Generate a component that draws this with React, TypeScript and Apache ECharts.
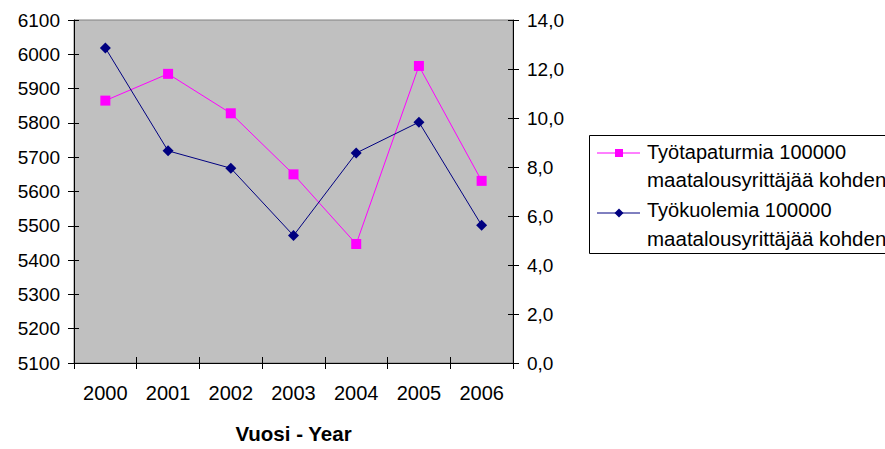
import React, { useEffect, useRef } from "react";
import * as echarts from "echarts";

const years = ["2000", "2001", "2002", "2003", "2004", "2005", "2006"];
const accidents = [5865, 5943, 5828, 5650, 5447, 5966, 5631];
const deaths = [12.86, 8.66, 7.95, 5.2, 8.57, 9.83, 5.62];
const accidentsName = "Työtapaturmia 100000 maatalousyrittäjää kohden";
const deathsName = "Työkuolemia 100000 maatalousyrittäjää kohden";
const xAxisTitle = "Vuosi - Year";

const FONT = "'Liberation Sans', Arial, sans-serif";
const PINK = "#ff00ff";
const NAVY = "#000080";

export default function App() {
  const ref = useRef<HTMLDivElement>(null);
  useEffect(() => {
    document.body.style.margin = "0";
    const chart = echarts.init(ref.current!, null, { renderer: "svg" });
    const axisLine = { show: true, lineStyle: { color: "#000", width: 1 } };
    const labelStyle = { color: "#000", fontSize: 19, fontFamily: FONT };
    chart.setOption({
      animation: false,
      backgroundColor: "#fff",
      grid: {
        left: 74,
        right: 372,
        top: 20,
        bottom: 80,
        show: true,
        backgroundColor: "#c0c0c0",
        borderColor: "#808080",
        borderWidth: 1,
      },
      xAxis: [
        {
          type: "category",
          data: years,
          boundaryGap: true,
          axisLine,
          axisTick: { show: true, length: 6, lineStyle: { color: "#000" } },
          axisLabel: { ...labelStyle, fontSize: 20, margin: 20 },
          splitLine: { show: false },
          name: xAxisTitle,
          nameLocation: "middle",
          nameGap: 60,
          nameTextStyle: { color: "#000", fontSize: 20.5, fontWeight: "bold", fontFamily: FONT },
        },
        {
          type: "category",
          data: years,
          position: "bottom",
          boundaryGap: true,
          axisLine: { show: false },
          axisTick: { show: true, inside: true, length: 6, lineStyle: { color: "#000" } },
          axisLabel: { show: false },
        },
      ],
      yAxis: [
        {
          type: "value",
          min: 5100,
          max: 6100,
          interval: 100,
          position: "left",
          axisLine,
          axisTick: { show: true, length: 6, lineStyle: { color: "#000" } },
          axisLabel: { ...labelStyle, margin: 14, formatter: (v: number) => String(v) },
          splitLine: { show: false },
        },
        {
          type: "value",
          min: 0,
          max: 14,
          interval: 2,
          position: "right",
          axisLine,
          axisTick: { show: true, length: 6, lineStyle: { color: "#000" } },
          axisLabel: {
            ...labelStyle,
            margin: 14,
            formatter: (v: number) => v.toFixed(1).replace(".", ","),
          },
          splitLine: { show: false },
        },
        {
          type: "value",
          min: 5100,
          max: 6100,
          interval: 100,
          position: "left",
          axisLine: { show: false },
          axisTick: { show: true, inside: true, length: 5, lineStyle: { color: "#000" } },
          axisLabel: { show: false },
          splitLine: { show: false },
        },
        {
          type: "value",
          min: 0,
          max: 14,
          interval: 2,
          position: "right",
          axisLine: { show: false },
          axisTick: { show: true, inside: true, length: 5, lineStyle: { color: "#000" } },
          axisLabel: { show: false },
          splitLine: { show: false },
        },
      ],
      series: [
        {
          name: accidentsName,
          type: "line",
          xAxisIndex: 0,
          yAxisIndex: 0,
          data: accidents,
          symbol: "rect",
          symbolSize: 10,
          lineStyle: { color: PINK, width: 1 },
          itemStyle: { color: PINK },
        },
        {
          name: deathsName,
          type: "line",
          xAxisIndex: 0,
          yAxisIndex: 1,
          data: deaths,
          symbol: "diamond",
          symbolSize: 11,
          lineStyle: { color: NAVY, width: 1 },
          itemStyle: { color: NAVY },
        },
      ],
      graphic: [
        {
          type: "group",
          left: 589,
          top: 135,
          children: [
            {
              type: "rect",
              shape: { x: 0.5, y: 0.5, width: 400, height: 118 },
              style: { fill: "#fff", stroke: "#000", lineWidth: 1 },
            },
            { type: "line", shape: { x1: 8, y1: 18, x2: 51, y2: 18 }, style: { stroke: PINK, lineWidth: 1 } },
            { type: "rect", shape: { x: 26, y: 14, width: 8, height: 8 }, style: { fill: PINK } },
            {
              type: "text",
              x: 58,
              y: 17,
              style: { text: "Työtapaturmia 100000", font: `20px ${FONT}`, fill: "#000", verticalAlign: "middle" },
            },
            {
              type: "text",
              x: 58,
              y: 44,
              style: { text: "maatalousyrittäjää kohden", font: `20.5px ${FONT}`, fill: "#000", verticalAlign: "middle" },
            },
            { type: "line", shape: { x1: 8, y1: 78, x2: 51, y2: 78 }, style: { stroke: NAVY, lineWidth: 1 } },
            {
              type: "polygon",
              shape: { points: [[30, 73.5], [34.5, 78], [30, 82.5], [25.5, 78]] },
              style: { fill: NAVY },
            },
            {
              type: "text",
              x: 58,
              y: 75,
              style: { text: "Työkuolemia 100000", font: `20px ${FONT}`, fill: "#000", verticalAlign: "middle" },
            },
            {
              type: "text",
              x: 58,
              y: 103,
              style: { text: "maatalousyrittäjää kohden", font: `20.5px ${FONT}`, fill: "#000", verticalAlign: "middle" },
            },
          ],
        },
      ],
    });
    return () => chart.dispose();
  }, []);
  return <div ref={ref} style={{ width: 885, height: 449, overflow: "hidden" }} />;
}
